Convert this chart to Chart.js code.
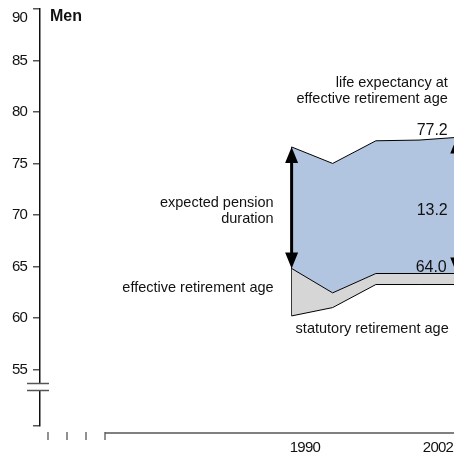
<!DOCTYPE html>
<html>
<head>
<meta charset="utf-8">
<script src="https://cdn.jsdelivr.net/npm/chart.js@4.4.1/dist/chart.umd.min.js"></script>
<style>
  html, body { margin: 0; padding: 0; background: #fff; }
  canvas { display: block; }
</style>
</head>
<body>
<canvas id="chart" width="454" height="456"></canvas>
<script>
// Values (men)
const years = [1988.8, 1992.5, 1996.4, 2000.3, 2003.7];
const lifeExpectancy = [76.6, 75.0, 77.2, 77.27, 77.53];
const effectiveAge = [64.8, 62.43, 64.31, 64.31, 64.31];
const statutoryAge = [60.19, 61.0, 63.24, 63.24, 63.24];

const yTicks = [55, 60, 65, 70, 75, 80, 85, 90];
const yAxisMin = 49.5;
const yAxisMax = 90;
const xTicks = [1990, 2002];
const xAxisMin = 1966.1;
const xAxisMax = 2003.45;

const panelTitle = 'Men';
const lastLife = '77.2';
const lastDuration = '13.2';
const lastEffective = '64.0';

const sans = "'Liberation Sans', Arial, sans-serif";
const textColor = '#111';

function points(values) {
  return values.map((v, i) => ({ x: years[i], y: v }));
}

function drawArrow(ctx, x, yTop, yBottom) {
  const head = 16;
  const half = 6.5;
  ctx.save();
  ctx.strokeStyle = '#000';
  ctx.fillStyle = '#000';
  ctx.lineWidth = 3;
  ctx.beginPath();
  ctx.moveTo(x, yTop + head - 2);
  ctx.lineTo(x, yBottom - head + 2);
  ctx.stroke();
  ctx.beginPath();
  ctx.moveTo(x, yTop);
  ctx.lineTo(x - half, yTop + head);
  ctx.lineTo(x + half, yTop + head);
  ctx.closePath();
  ctx.fill();
  ctx.beginPath();
  ctx.moveTo(x, yBottom);
  ctx.lineTo(x - half, yBottom - head);
  ctx.lineTo(x + half, yBottom - head);
  ctx.closePath();
  ctx.fill();
  ctx.restore();
}

function label(ctx, text, x, y, align, size) {
  ctx.save();
  ctx.font = size + 'px ' + sans;
  ctx.letterSpacing = '0px';
  ctx.fillStyle = textColor;
  ctx.textAlign = align;
  ctx.textBaseline = 'middle';
  ctx.fillText(text, x, y);
  ctx.restore();
}

const decorations = {
  id: 'decorations',
  beforeDraw(chart) {
    // the tick numbers are set tight, like the condensed face of the original
    chart.ctx.letterSpacing = '-0.8px';
  },
  afterDraw(chart) {
    const ctx = chart.ctx;
    const xs = chart.scales.x;
    const ys = chart.scales.y;
    const area = chart.chartArea;

    // axis break on the y axis
    ctx.save();
    ctx.fillStyle = '#fff';
    ctx.fillRect(area.left - 3, 384, 6, 6);
    ctx.strokeStyle = '#555';
    ctx.lineWidth = 1.5;
    [383.5, 390.5].forEach((y) => {
      ctx.beginPath();
      ctx.moveTo(area.left - 13, y);
      ctx.lineTo(area.left + 9, y);
      ctx.stroke();
    });

    // baseline and small ticks under the plot
    ctx.strokeStyle = '#808080';
    ctx.lineWidth = 2;
    ctx.beginPath();
    ctx.moveTo(area.left + 65, 433);
    ctx.lineTo(chart.width, 433);
    ctx.stroke();
    ctx.strokeStyle = '#555';
    ctx.lineWidth = 1.3;
    [8, 27, 46, 65].forEach((dx) => {
      ctx.beginPath();
      ctx.moveTo(area.left + dx, 432);
      ctx.lineTo(area.left + dx, 440);
      ctx.stroke();
    });
    ctx.restore();

    // title
    ctx.save();
    ctx.letterSpacing = '0px';
    ctx.font = 'bold 16px ' + sans;
    ctx.fillStyle = '#111';
    ctx.textBaseline = 'middle';
    ctx.fillText(panelTitle, area.left + 10, 17);
    ctx.restore();

    const last = years.length - 1;
    const x0 = xs.getPixelForValue(years[0]);
    const xN = xs.getPixelForValue(years[last]);
    const top0 = ys.getPixelForValue(lifeExpectancy[0]);
    const eff0 = ys.getPixelForValue(effectiveAge[0]);
    const stat0 = ys.getPixelForValue(statutoryAge[0]);
    const topN = ys.getPixelForValue(lifeExpectancy[last]);
    const effN = ys.getPixelForValue(effectiveAge[last]);

    drawArrow(ctx, x0, top0, eff0);
    drawArrow(ctx, xN, topN, effN);

    // annotations on the left arrow
    const mid0 = (top0 + eff0) / 2;
    label(ctx, 'expected pension', x0 - 18, mid0 - 4.5, 'right', 14.5);
    label(ctx, 'duration', x0 - 18, mid0 + 11.5, 'right', 14.5);
    label(ctx, 'effective retirement age', x0 - 18, eff0 + 20, 'right', 14.5);
    label(ctx, 'statutory retirement age', x0 + 4, stat0 + 13, 'left', 14.5);

    // annotations on the right arrow
    label(ctx, 'life expectancy at', xN - 9, topN - 54, 'right', 14.5);
    label(ctx, 'effective retirement age', xN - 9, topN - 38, 'right', 14.5);
    label(ctx, lastLife, xN - 9, topN - 7, 'right', 16);
    label(ctx, lastDuration, xN - 9, (topN + effN) / 2 + 5, 'right', 16);
    label(ctx, lastEffective, xN - 10, effN - 6, 'right', 16);
  }
};

new Chart(document.getElementById('chart'), {
  type: 'line',
  data: {
    datasets: [
      {
        label: 'statutory retirement age',
        data: points(statutoryAge),
        borderColor: '#000',
        borderWidth: 1,
        fill: false,
      },
      {
        label: 'effective retirement age',
        data: points(effectiveAge),
        borderColor: '#000',
        borderWidth: 1,
        backgroundColor: '#d6d6d6',
        fill: '-1',
      },
      {
        label: 'life expectancy at effective retirement age',
        data: points(lifeExpectancy),
        borderColor: '#000',
        borderWidth: 1,
        backgroundColor: '#b2c5e0',
        fill: '-1',
      },
      {
        label: 'edge',
        data: [
          { x: years[0], y: statutoryAge[0] },
          { x: years[0], y: lifeExpectancy[0] },
        ],
        borderColor: '#000',
        borderWidth: 1,
        fill: false,
      },
    ],
  },
  options: {
    responsive: false,
    animation: false,
    devicePixelRatio: 1,
    layout: { padding: { top: 9, right: 0, bottom: 0, left: 0 } },
    elements: { point: { radius: 0 }, line: { tension: 0 } },
    plugins: {
      legend: { display: false },
      tooltip: { enabled: false },
    },
    scales: {
      x: {
        type: 'linear',
        min: xAxisMin,
        max: xAxisMax,
        afterBuildTicks: (scale) => {
          scale.ticks = xTicks.map((v) => ({ value: v }));
        },
        afterFit: (scale) => {
          scale.height = 30;
          scale.paddingLeft = 0;
          scale.paddingRight = 0;
        },
        grid: { display: false, drawTicks: false },
        border: { display: false },
        ticks: {
          padding: 13,
          color: textColor,
          font: { family: sans, size: 15 },
          callback: (v) => String(v),
        },
      },
      y: {
        type: 'linear',
        min: yAxisMin,
        max: yAxisMax,
        afterBuildTicks: (scale) => {
          scale.ticks = [yAxisMin].concat(yTicks).map((v) => ({ value: v }));
        },
        afterFit: (scale) => {
          scale.width = 40;
          scale.paddingTop = 0;
          scale.paddingBottom = 0;
        },
        grid: {
          drawOnChartArea: false,
          drawTicks: true,
          tickLength: 7,
          color: '#555',
          lineWidth: 1.5,
        },
        border: { display: true, color: '#111', width: 1.5 },
        ticks: {
          padding: 6,
          color: textColor,
          font: { family: sans, size: 15 },
          callback: (v) => {
            if (!yTicks.includes(v)) return '';
            // the top label sits just under its tick
            return v === yAxisMax ? ['', String(v)] : String(v);
          },
        },
      },
    },
  },
  plugins: [decorations],
});
</script>
</body>
</html>
